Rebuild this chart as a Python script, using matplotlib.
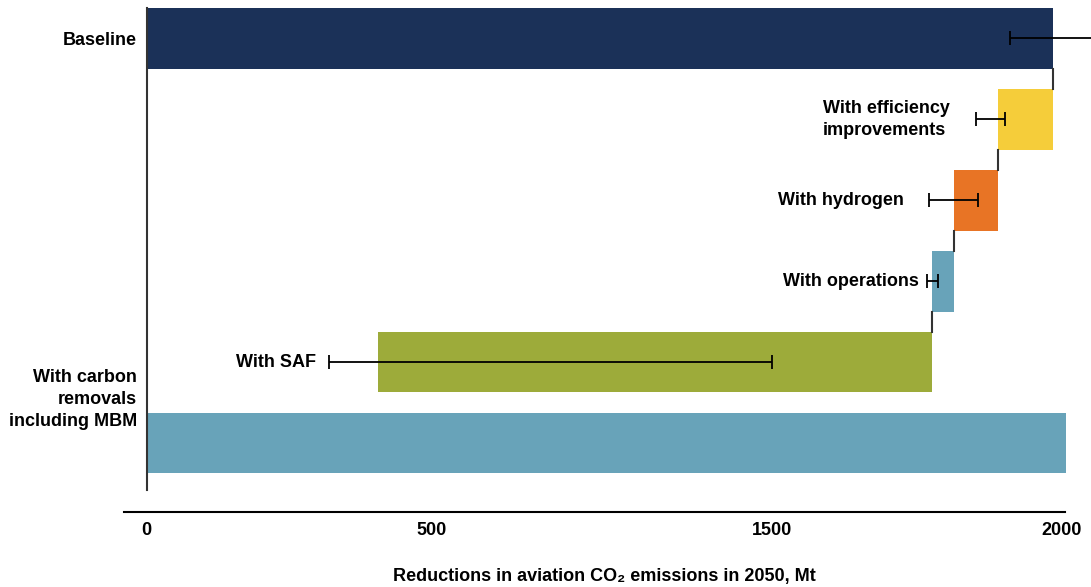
import matplotlib.pyplot as plt
from matplotlib import transforms

# waterfall data, Mt CO2
baseline = 1980
steps = ['With efficiency\nimprovements', 'With hydrogen', 'With operations', 'With SAF']
reductions = [120, 95, 50, 1210]
removals_left = 3
removals_width = 2005
# error bar ranges (low, high)
base_err = (1886, 2074)
step_err_low = [1812, 1709, 1705, 398]
step_err_high = [1875, 1816, 1729, 1366]
tick_pos = [0, 623, 1366, 2000]
tick_labels = ['0', '500', '1500', '2000']

colors = ['#f5cd3a', '#e87425', '#68a3b9', '#9dab3a']
navy = '#1b3158'
blue = '#68a3b9'
label_gap = [26, 25, 8, 13]
fs = 13

plt.rcParams['font.family'] = ['Liberation Sans', 'DejaVu Sans']

fig = plt.figure(figsize=(10.91, 5.87), dpi=100)
ax = fig.add_axes([0.1343, 0.1652, 0.8391, 0.8212])
h = 0.75

ax.barh(0, baseline, height=h, color=navy)
ax.errorbar(baseline, 0, xerr=[[baseline - base_err[0]], [base_err[1] - baseline]],
            fmt='none', ecolor='black', elinewidth=1.3, capsize=5, capthick=1.3, clip_on=False)

total = baseline
for i, (name, r) in enumerate(zip(steps, reductions)):
    y = i + 1
    ax.plot([total, total], [y - 1 + h / 2, y - h / 2], color='#333333', lw=1.5)
    total -= r
    ax.barh(y, r, left=total, height=h, color=colors[i])
    lo, hi = step_err_low[i], step_err_high[i]
    mid = (lo + hi) / 2
    ax.errorbar(mid, y, xerr=(hi - lo) / 2, fmt='none', ecolor='black',
                elinewidth=1.3, capsize=5, capthick=1.3)
    ax.annotate(name, (lo, y), xytext=(-label_gap[i], 0), textcoords='offset pixels',
                ha='right', va='center', multialignment='left', fontsize=fs,
                fontweight='bold', linespacing=1.41)

ax.barh(5, removals_width, left=removals_left, height=h, color=blue, clip_on=False)

ax.set_xlim(0, 2000)
ax.set_ylim(5.58, -h / 2)

ax.set_yticks([0])
ax.set_yticklabels(['Baseline'], fontsize=fs, fontweight='bold')
ax.tick_params(axis='y', length=0, pad=7)
trans = transforms.blended_transform_factory(ax.transAxes, ax.transData)
ax.text(-0.01, 4.46, 'With carbon\nremovals\nincluding MBM', transform=trans,
        ha='right', va='center', multialignment='right', fontsize=fs,
        fontweight='bold', linespacing=1.41)

ax.set_xticks(tick_pos)
ax.set_xticklabels(tick_labels, fontsize=fs, fontweight='bold')
ax.tick_params(axis='x', length=0, pad=23)
ax.set_xlabel('Reductions in aviation CO₂ emissions in 2050, Mt',
              fontsize=fs, fontweight='bold', labelpad=21)

for s in ['top', 'right', 'bottom']:
    ax.spines[s].set_visible(False)
ax.spines['left'].set_color('#333333')
ax.spines['left'].set_linewidth(1.5)
ax.plot([-0.0246, 1.003], [-0.0456, -0.0456], transform=ax.transAxes,
        color='black', lw=1.5, clip_on=False)

fig.savefig('out.png', dpi=100)
